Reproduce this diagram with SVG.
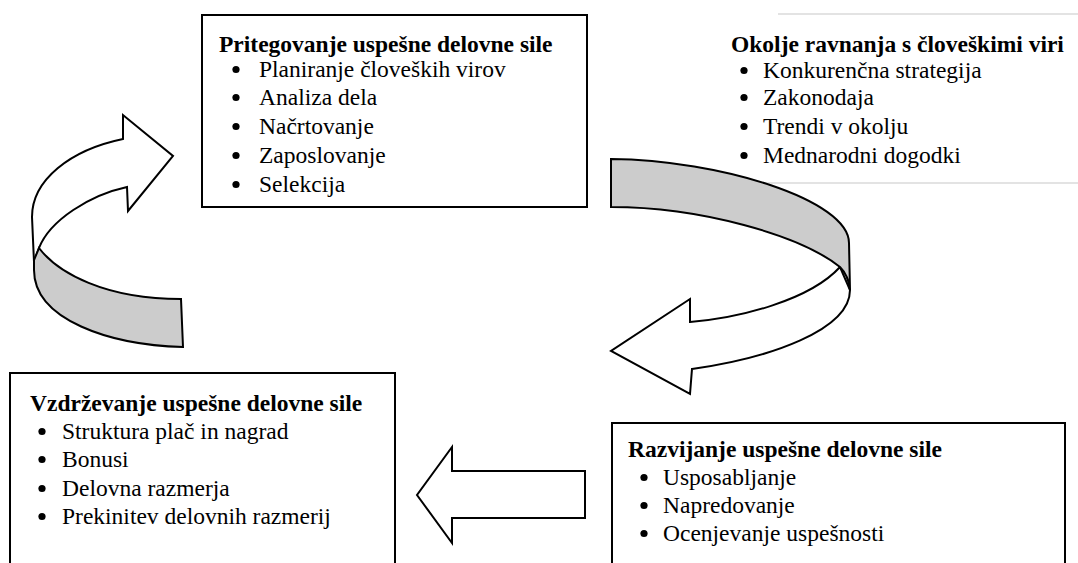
<svg xmlns="http://www.w3.org/2000/svg" width="1078" height="563" viewBox="0 0 1078 563">
  <style>
    .box { fill: #ffffff; stroke: #000000; stroke-width: 2; }
    .rule { stroke: #c8c8c8; stroke-width: 1.2; }
    .title { font-family: "Liberation Serif", "Times New Roman", serif; font-size: 23.5px; font-weight: bold; fill: #000000; }
    .item { font-family: "Liberation Serif", "Times New Roman", serif; font-size: 23.5px; fill: #000000; }
    .dot { fill: #000000; }
    .front { fill: #ffffff; stroke: #000000; stroke-width: 2; stroke-linejoin: miter; }
    .back { fill: #cccccc; stroke: #000000; stroke-width: 2; stroke-linejoin: miter; }
  </style>

  <!-- HR environment (no frame, only two thin rules) -->
  <g id="node-okolje">
    <line class="rule" x1="778" y1="14" x2="1078" y2="14"/>
    <line class="rule" x1="760" y1="183" x2="1078" y2="183"/>
    <text class="title" x="731" y="52">Okolje ravnanja s človeškimi viri</text>
    <circle class="dot" cx="744" cy="70.5" r="3.6"/><text class="item" x="763" y="78">Konkurenčna strategija</text>
    <circle class="dot" cx="744" cy="97.5" r="3.6"/><text class="item" x="763" y="105">Zakonodaja</text>
    <circle class="dot" cx="744" cy="126.5" r="3.6"/><text class="item" x="763" y="134">Trendi v okolju</text>
    <circle class="dot" cx="744" cy="155.5" r="3.6"/><text class="item" x="763" y="163">Mednarodni dogodki</text>
  </g>

  <!-- Acquiring the workforce -->
  <g id="node-pritegovanje">
    <rect class="box" x="202" y="15" width="385" height="192"/>
    <text class="title" x="219" y="52">Pritegovanje uspešne delovne sile</text>
    <circle class="dot" cx="236" cy="69.5" r="3.6"/><text class="item" x="259" y="77">Planiranje človeških virov</text>
    <circle class="dot" cx="236" cy="97.5" r="3.6"/><text class="item" x="259" y="105">Analiza dela</text>
    <circle class="dot" cx="236" cy="126.5" r="3.6"/><text class="item" x="259" y="134">Načrtovanje</text>
    <circle class="dot" cx="236" cy="155.5" r="3.6"/><text class="item" x="259" y="163">Zaposlovanje</text>
    <circle class="dot" cx="236" cy="184.5" r="3.6"/><text class="item" x="259" y="192">Selekcija</text>
  </g>

  <!-- Maintaining the workforce -->
  <g id="node-vzdrzevanje">
    <rect class="box" x="10" y="373" width="385" height="200"/>
    <text class="title" x="30" y="411">Vzdrževanje uspešne delovne sile</text>
    <circle class="dot" cx="42" cy="431.5" r="3.6"/><text class="item" x="62" y="439">Struktura plač in nagrad</text>
    <circle class="dot" cx="42" cy="459.5" r="3.6"/><text class="item" x="62" y="467">Bonusi</text>
    <circle class="dot" cx="42" cy="488.5" r="3.6"/><text class="item" x="62" y="496">Delovna razmerja</text>
    <circle class="dot" cx="42" cy="516.5" r="3.6"/><text class="item" x="62" y="524">Prekinitev delovnih razmerij</text>
  </g>

  <!-- Developing the workforce -->
  <g id="node-razvijanje">
    <rect class="box" x="612" y="423" width="453" height="150"/>
    <text class="title" x="628" y="457">Razvijanje uspešne delovne sile</text>
    <circle class="dot" cx="644" cy="477.5" r="3.6"/><text class="item" x="663" y="485">Usposabljanje</text>
    <circle class="dot" cx="644" cy="505.5" r="3.6"/><text class="item" x="663" y="513">Napredovanje</text>
    <circle class="dot" cx="644" cy="533.5" r="3.6"/><text class="item" x="663" y="541">Ocenjevanje uspešnosti</text>
  </g>

  <!-- Cycle arrows -->
  <g id="connectors">
    <!-- curved ribbon arrow, left: back side sweeps up into the front face -->
    <path class="front" d="M 127,187 L 128,211 L 173,156 L 123,115 L 123,139 C 70,150 32,180 32,217 L 34,262 L 39,248 C 50,220 90,195 127,187 Z"/>
    <path class="back" d="M 39,248 C 58,273 105,299 181,299 L 183,347 C 110,345 34,320 34,270 L 34,260 Z"/>

    <!-- curved ribbon arrow, right: back side sweeps round into the front face -->
    <path class="front" d="M 840,267 C 810,300 740,318 690,322 L 690,299 L 611,351 L 690,394 L 692,369 C 770,358 850,330 850,290 Z"/>
    <path class="back" d="M 611,159 C 720,160 849,200 849,243 L 850,290 C 849,280 846,273 840,267 C 800,235 700,207 611,207 Z"/>

    <!-- straight block arrow -->
    <path class="front" d="M 585,471 L 452,471 L 452,447 L 417,495 L 452,543 L 452,518 L 585,518 Z"/>
  </g>
</svg>
